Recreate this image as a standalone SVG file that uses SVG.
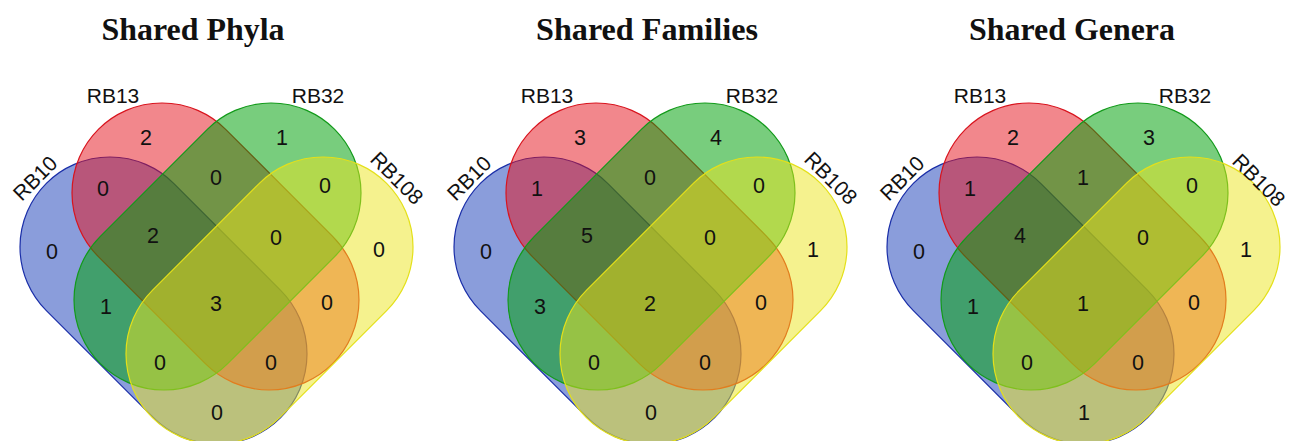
<svg xmlns="http://www.w3.org/2000/svg" width="1291" height="441" viewBox="0 0 1291 441">
<style>
.title{font-family:"Liberation Serif","Times New Roman",serif;font-weight:bold;font-size:31px;text-anchor:middle;fill:#111}
.lab{font-family:"Liberation Sans",Arial,sans-serif;font-size:21px;text-anchor:middle;fill:#111}
.num{font-family:"Liberation Sans",Arial,sans-serif;font-size:21.5px;text-anchor:middle;fill:#111}
.s10{fill:#153bb7;fill-opacity:0.5;stroke:#1a2ea8;stroke-width:1.2}
.s13{fill:#e50f19;fill-opacity:0.5;stroke:#d8141e;stroke-width:1.2}
.s32{fill:#00a00a;fill-opacity:0.53;stroke:#129a1a;stroke-width:1.2}
.s108{fill:#ebe61e;fill-opacity:0.5;stroke:#e4e01a;stroke-width:1.2}
</style>
<defs>
<rect id="stad" x="-165.65" y="-90" width="331.3" height="180" rx="90" ry="90"/>
</defs>
<rect width="1291" height="441" fill="#fff"/>
<text class="title" x="193" y="40" textLength="183" lengthAdjust="spacingAndGlyphs">Shared Phyla</text>
<text class="title" x="647" y="40" textLength="222" lengthAdjust="spacingAndGlyphs">Shared Families</text>
<text class="title" x="1072" y="40" textLength="206" lengthAdjust="spacingAndGlyphs">Shared Genera</text>

<g id="phyla">
 <g id="phyla-RB10"><use href="#stad" class="s10" transform="translate(163.5,300.5) rotate(45)"/></g>
 <g id="phyla-RB13"><use href="#stad" class="s13" transform="translate(215.5,246.5) rotate(45)"/></g>
 <g id="phyla-RB32"><use href="#stad" class="s32" transform="translate(217.5,246.5) rotate(-45)"/></g>
 <g id="phyla-RB108"><use href="#stad" class="s108" transform="translate(269.5,300.5) rotate(-45)"/></g>
 <g id="phyla-labels">
  <text class="lab" transform="translate(35,178) rotate(-45)" y="7.5">RB10</text>
  <text class="lab" x="113" y="102.5">RB13</text>
  <text class="lab" x="318" y="102.5">RB32</text>
  <text class="lab" transform="translate(397,178) rotate(45)" y="7.5">RB108</text>
 </g>
 <g id="phyla-counts">
  <text class="num" x="146" y="145">2</text>
  <text class="num" x="282" y="145">1</text>
  <text class="num" x="103" y="196">0</text>
  <text class="num" x="216" y="185">0</text>
  <text class="num" x="325" y="193">0</text>
  <text class="num" x="52" y="259">0</text>
  <text class="num" x="153" y="243">2</text>
  <text class="num" x="276" y="245">0</text>
  <text class="num" x="379" y="257">0</text>
  <text class="num" x="106" y="314">1</text>
  <text class="num" x="216" y="311">3</text>
  <text class="num" x="327" y="310">0</text>
  <text class="num" x="160" y="370">0</text>
  <text class="num" x="271" y="370">0</text>
  <text class="num" x="217" y="420">0</text>
 </g>
</g>

<g id="families" transform="translate(434,0)">
 <g id="families-RB10"><use href="#stad" class="s10" transform="translate(163.5,300.5) rotate(45)"/></g>
 <g id="families-RB13"><use href="#stad" class="s13" transform="translate(215.5,246.5) rotate(45)"/></g>
 <g id="families-RB32"><use href="#stad" class="s32" transform="translate(217.5,246.5) rotate(-45)"/></g>
 <g id="families-RB108"><use href="#stad" class="s108" transform="translate(269.5,300.5) rotate(-45)"/></g>
 <g id="families-labels">
  <text class="lab" transform="translate(35,178) rotate(-45)" y="7.5">RB10</text>
  <text class="lab" x="113" y="102.5">RB13</text>
  <text class="lab" x="318" y="102.5">RB32</text>
  <text class="lab" transform="translate(397,178) rotate(45)" y="7.5">RB108</text>
 </g>
 <g id="families-counts">
  <text class="num" x="146" y="145">3</text>
  <text class="num" x="282" y="145">4</text>
  <text class="num" x="103" y="196">1</text>
  <text class="num" x="216" y="185">0</text>
  <text class="num" x="325" y="193">0</text>
  <text class="num" x="52" y="259">0</text>
  <text class="num" x="153" y="243">5</text>
  <text class="num" x="276" y="245">0</text>
  <text class="num" x="379" y="257">1</text>
  <text class="num" x="106" y="314">3</text>
  <text class="num" x="216" y="311">2</text>
  <text class="num" x="327" y="310">0</text>
  <text class="num" x="160" y="370">0</text>
  <text class="num" x="271" y="370">0</text>
  <text class="num" x="217" y="420">0</text>
 </g>
</g>

<g id="genera" transform="translate(867,0)">
 <g id="genera-RB10"><use href="#stad" class="s10" transform="translate(163.5,300.5) rotate(45)"/></g>
 <g id="genera-RB13"><use href="#stad" class="s13" transform="translate(215.5,246.5) rotate(45)"/></g>
 <g id="genera-RB32"><use href="#stad" class="s32" transform="translate(217.5,246.5) rotate(-45)"/></g>
 <g id="genera-RB108"><use href="#stad" class="s108" transform="translate(269.5,300.5) rotate(-45)"/></g>
 <g id="genera-labels">
  <text class="lab" transform="translate(35,178) rotate(-45)" y="7.5">RB10</text>
  <text class="lab" x="113" y="102.5">RB13</text>
  <text class="lab" x="318" y="102.5">RB32</text>
  <text class="lab" transform="translate(392,180) rotate(45)" y="7.5" font-size="20">RB108</text>
 </g>
 <g id="genera-counts">
  <text class="num" x="146" y="145">2</text>
  <text class="num" x="282" y="145">3</text>
  <text class="num" x="103" y="196">1</text>
  <text class="num" x="216" y="185">1</text>
  <text class="num" x="325" y="193">0</text>
  <text class="num" x="52" y="259">0</text>
  <text class="num" x="153" y="243">4</text>
  <text class="num" x="276" y="245">0</text>
  <text class="num" x="379" y="257">1</text>
  <text class="num" x="106" y="314">1</text>
  <text class="num" x="216" y="311">1</text>
  <text class="num" x="327" y="310">0</text>
  <text class="num" x="160" y="370">0</text>
  <text class="num" x="271" y="370">0</text>
  <text class="num" x="217" y="420">1</text>
 </g>
</g>
<g id="connectors"/>
</svg>
